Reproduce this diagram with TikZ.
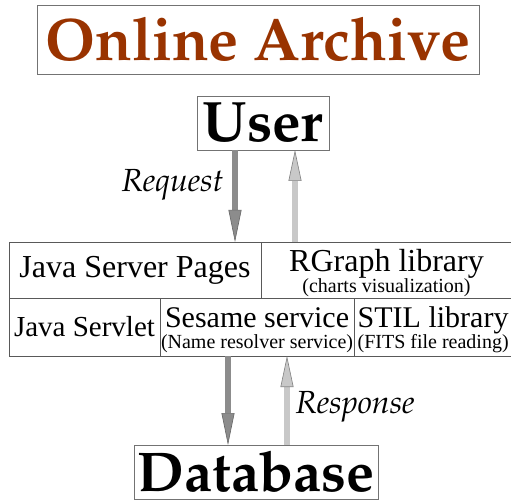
\documentclass[tikz,border=0pt]{standalone}
\usepackage[T1]{fontenc}
\usepackage{fontspec}
\setmainfont{Liberation Serif}
\usetikzlibrary{arrows.meta,positioning}

\definecolor{archive}{HTML}{993300}
\definecolor{darkarrow}{HTML}{8C8C8C}
\definecolor{lightarrow}{HTML}{C8C8C8}
\newcommand{\palbold}[1]{\fontencoding{T1}\fontfamily{ppl}\fontseries{b}\fontshape{n}\fontsize{#1}{#1}\selectfont}
\newcommand{\palital}[1]{\fontencoding{T1}\fontfamily{ppl}\fontseries{m}\fontshape{it}\fontsize{#1}{#1}\selectfont}
\newcommand{\subline}[1]{{\fontsize{20}{20}\selectfont #1}}
\newcommand{\lowered}[1]{\raisebox{-5pt}[\height][\depth]{\begin{tabular}{@{}c@{}}#1\end{tabular}}}

\begin{document}
\begin{tikzpicture}[x=1pt, y=-1pt,
  box/.style = {draw = black!55, line width = 0.8pt, shape = rectangle, inner sep = 1pt, outer sep = 0pt},
  cell/.style = {draw = black!65, line width = 0.8pt, shape = rectangle, inner sep = 1pt, outer sep = 0pt, align = center, font = \fontsize{30}{30}\selectfont},
  reqarrow/.style = {darkarrow, line width = 6pt, -{Triangle[length = 32pt, width = 13pt, fill = darkarrow, color = black!60, line width = 0.6pt]}},
  resarrow/.style = {lightarrow, line width = 6pt, -{Triangle[length = 31pt, width = 13pt, fill = lightarrow, color = black!50, line width = 0.6pt]}}
]
\useasboundingbox (0,0) rectangle (511,502);

\node[box, minimum width = 442pt, minimum height = 69pt, text = archive, font = \palbold{60pt}] (archive) at (258,39.5) {Online Archive};
\node[box, minimum width = 132pt, minimum height = 54pt, font = \palbold{57pt}] (user) at (263,123) {User};

% table of components
\node[cell, minimum width = 252pt, minimum height = 56pt, anchor = north west, font = \fontsize{32}{32}\selectfont] (jsp) at (9,242) {Java Server Pages};
\node[cell, minimum width = 251pt, minimum height = 56pt, right = 0pt of jsp] (rgraph) {\lowered{{\fontsize{32}{32}\selectfont RGraph library}\\[-9pt]\subline{(charts visualization)}}};
\node[cell, minimum width = 151pt, minimum height = 58pt, anchor = north west, font = \fontsize{29}{29}\selectfont] (servlet) at (jsp.south west) {Java Servlet};
\node[cell, minimum width = 194pt, minimum height = 58pt, right = 0pt of servlet] (sesame) {\lowered{Sesame service\\[-9pt]\subline{(Name resolver service)}}};
\node[cell, minimum width = 158pt, minimum height = 58pt, right = 0pt of sesame] (stil) {\lowered{STIL library\\[-9pt]\subline{(FITS file reading)}}};

\node[box, minimum width = 244pt, minimum height = 54pt, anchor = north, font = \palbold{56pt}] (db) at (256,445) {Database};

\draw[reqarrow] ([xshift = -28pt]user.south) -- ([xshift = -28pt]user.south |- jsp.north);
\draw[resarrow] ([xshift = 32pt]user.south |- rgraph.north) -- ([xshift = 32pt]user.south);
\draw[reqarrow] ([xshift = -28pt]db.north |- sesame.south) -- ([xshift = -28pt]db.north);
\draw[resarrow] ([xshift = 31pt]db.north) -- ([xshift = 31pt]db.north |- sesame.south);

\node[anchor = east, font = \palital{32pt}] (request) at (227,185) {Request};
\node[anchor = west, font = \palital{32pt}] (response) at (292,407) {Response};
\end{tikzpicture}
\end{document}
